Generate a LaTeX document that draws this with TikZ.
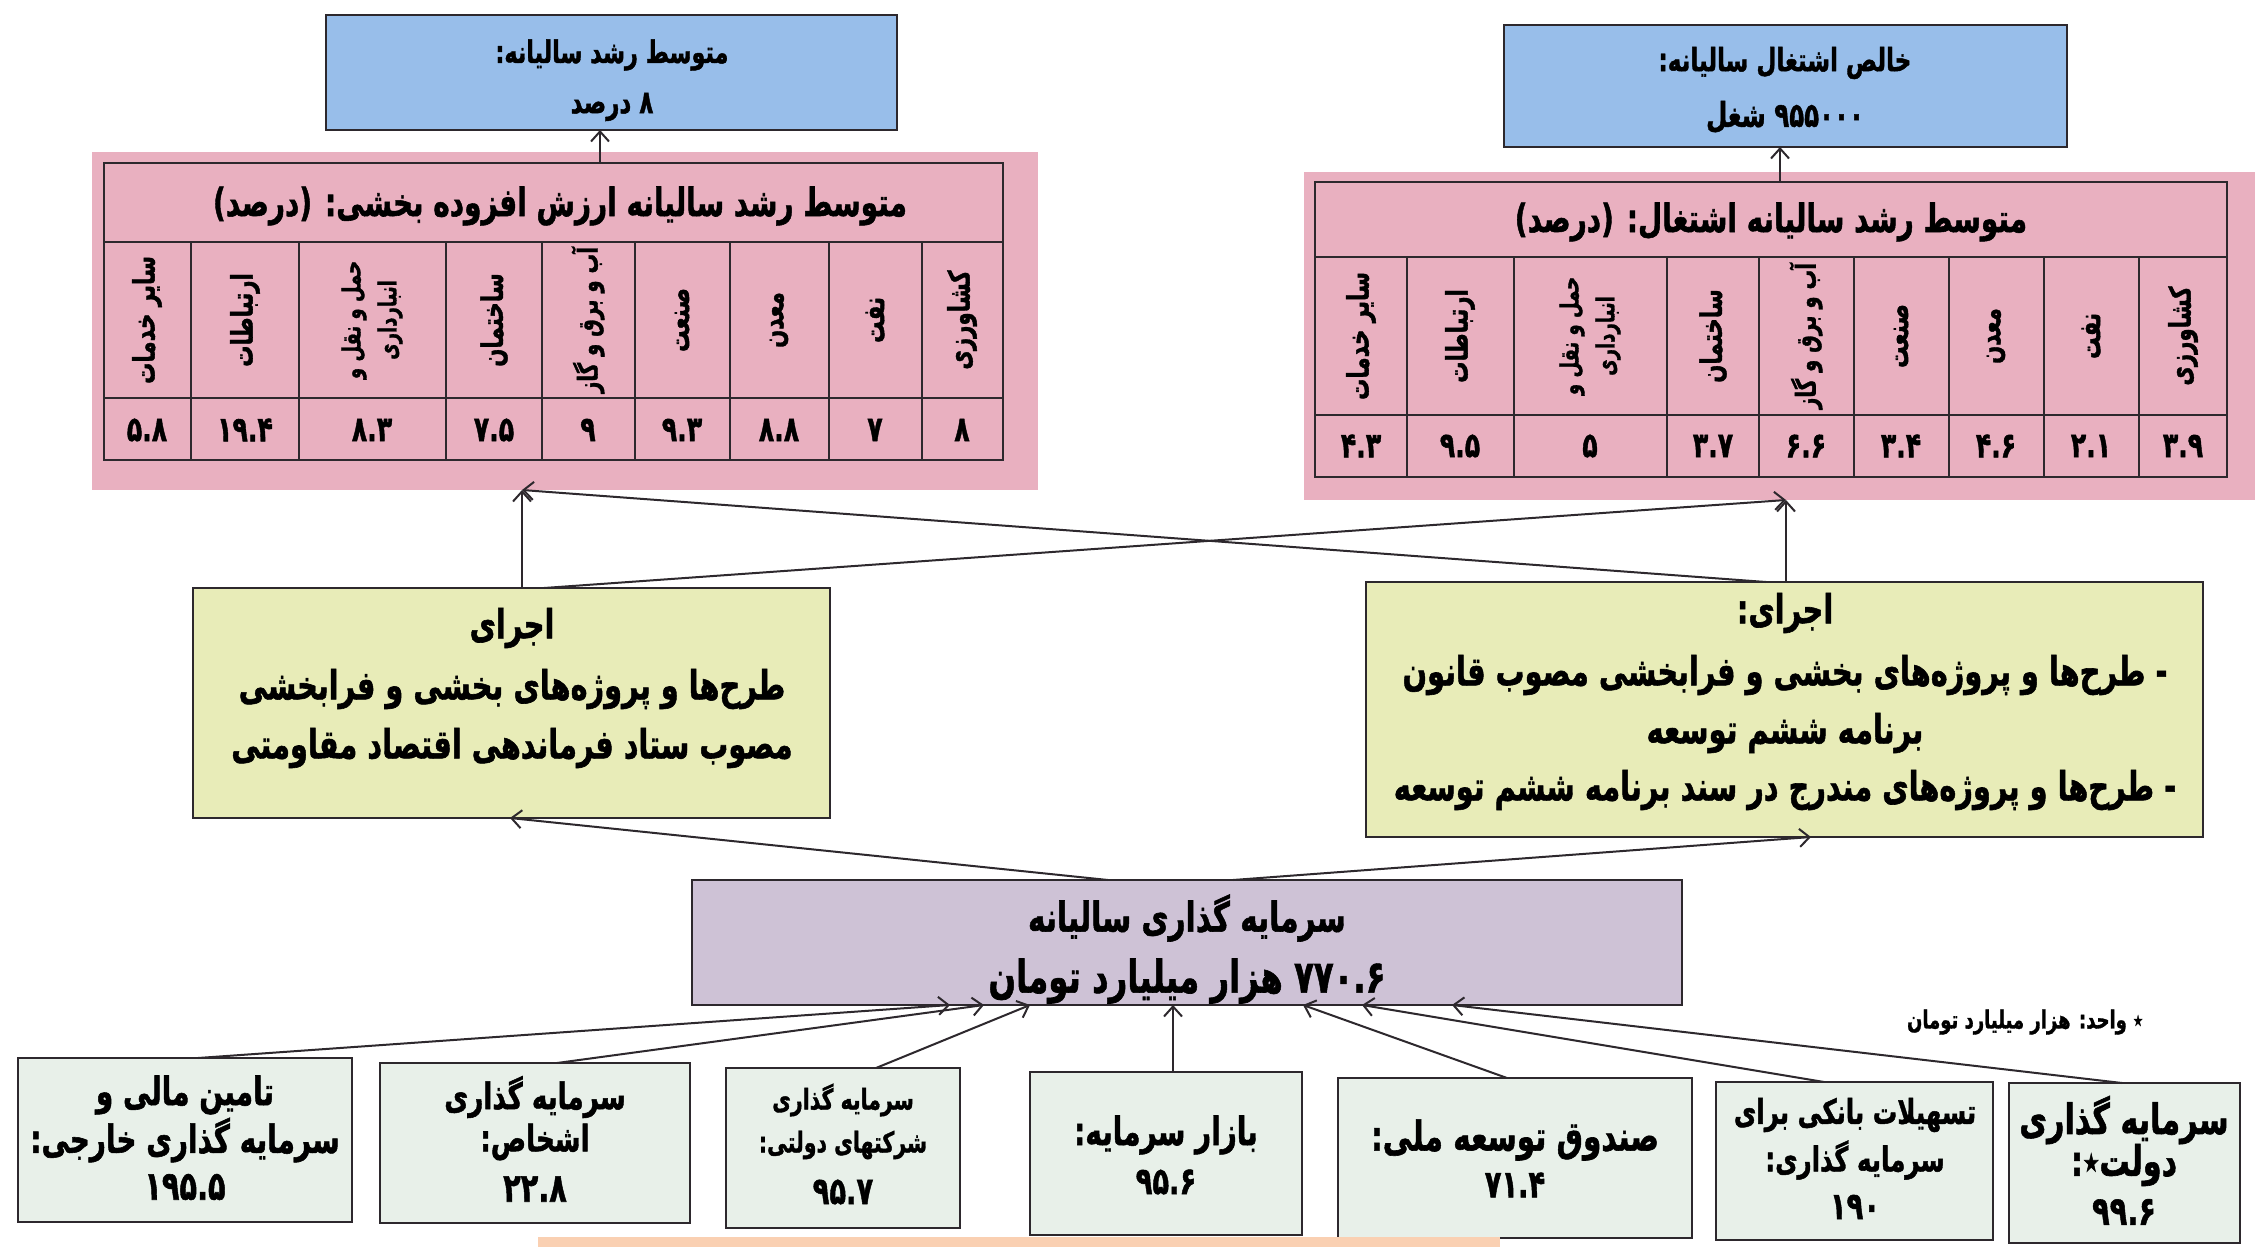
\documentclass[tikz,border=0pt]{standalone}
\usepackage{fontspec}
\usepackage{graphicx}
\usetikzlibrary{arrows.meta}
\TeXXeTstate=1
\newfontfamily\fa[Script=Arabic, BoldFeatures={FakeBold=1.5}]{DejaVu Sans}
\definecolor{blueF}{RGB}{152,190,234}
\definecolor{pinkF}{RGB}{233,176,192}
\definecolor{yelF}{RGB}{232,236,184}
\definecolor{purF}{RGB}{206,194,214}
\definecolor{grnF}{RGB}{232,240,233}
\definecolor{orgF}{RGB}{250,208,178}
\definecolor{lineC}{RGB}{45,40,45}
\newcommand\fs[1]{\fontsize{#1pt}{#1pt}\selectfont}
\newcommand\sq{0.72}
\newcommand\mkbox[6]{\node[#6, minimum width={(#4-#2)*0.5pt}, minimum height={(#5-#3)*0.5pt}] (#1) at ({(#2+#4)/2},{(#3+#5)/2}) {};}
\newcommand\tx[5]{\node[txt, font={\fa\bfseries\fs{#4}}] (#1) at (#2,#3) {\scalebox{\sq}[1]{#5}};}
\newcommand\vl[5]{\node[txt, rotate=90, font={\fa\bfseries\fs{#4}}] (#1) at (#2,#3) {\scalebox{\sq}[1]{#5}};}
\begin{document}
\begin{tikzpicture}[x=0.5pt,y=-0.5pt]
\tikzset{
 every node/.style={inner sep=0pt, outer sep=0pt},
 txt/.style={text=black},
 bx/.style={draw=lineC, line width=1.3pt},
 tl/.style={draw=lineC, line width=1pt},
 arr/.style={draw=lineC, line width=1pt, -{Straight Barb[length=5pt,width=9pt,line width=1pt]}},
}
\fill[white] (0,0) rectangle (2261,1247);
\useasboundingbox (0,0) rectangle (2261,1247);

% top boxes
\mkbox{blueL}{326}{15}{897}{130}{bx, fill=blueF}
\tx{bl1}{612}{55}{15.5}{\beginR متوسط رشد سالیانه:\endR}
\tx{bl2}{612}{107}{16}{\beginR ۸ درصد\endR}
\mkbox{blueR}{1504}{25}{2067}{147}{bx, fill=blueF}
\tx{br1}{1785}{63}{16}{\beginR خالص اشتغال سالیانه:\endR}
\tx{br2}{1785}{117}{17}{\beginR ۹۵۵۰۰۰ شغل\endR}

% left table
\mkbox{lbg}{92}{152}{1038}{490}{fill=pinkF}
\mkbox{ltab}{104}{163}{1003}{460}{bx}
\draw[tl] (104,242) -- (1003,242);
\draw[tl] (104,398) -- (1003,398);
\foreach \x in {191,299,446,542,635,730,829,922} \draw[tl] (\x,242) -- (\x,460);
\tx{lt}{560}{206}{19.4}{\beginR متوسط رشد سالیانه ارزش افزوده بخشی: (درصد)\endR}
\vl{lc1}{147}{320}{14.8}{\beginR سایر خدمات\endR}
\vl{lc2}{245}{320}{14.8}{\beginR ارتباطات\endR}
\node[txt, rotate=90, align=center, font={\fa\bfseries\fontsize{12.5pt}{18pt}\selectfont}] (lc3) at (372,320) {\scalebox{\sq}[1]{\beginR حمل و نقل و\endR}\\\scalebox{\sq}[1]{\beginR انبارداری\endR}};
\vl{lc4}{494}{320}{14.8}{\beginR ساختمان\endR}
\vl{lc5}{588}{320}{13.7}{\beginR آب و برق و گاز\endR}
\vl{lc6}{682}{320}{14.8}{\beginR صنعت\endR}
\vl{lc7}{779}{320}{14.8}{\beginR معدن\endR}
\vl{lc8}{875}{320}{14.8}{\beginR نفت\endR}
\vl{lc9}{962}{320}{14.8}{\beginR کشاورزی\endR}
\tx{ln1}{147}{430}{17.5}{۵.۸}
\tx{ln2}{245}{430}{17.5}{۱۹.۴}
\tx{ln3}{372}{430}{17.5}{۸.۳}
\tx{ln4}{494}{430}{17.5}{۷.۵}
\tx{ln5}{588}{430}{17.5}{۹}
\tx{ln6}{682}{430}{17.5}{۹.۳}
\tx{ln7}{779}{430}{17.5}{۸.۸}
\tx{ln8}{875}{430}{17.5}{۷}
\tx{ln9}{962}{430}{17.5}{۸}

% right table
\mkbox{rbg}{1304}{172}{2255}{500}{fill=pinkF}
\mkbox{rtab}{1315}{182}{2227}{477}{bx}
\draw[tl] (1315,257) -- (2227,257);
\draw[tl] (1315,415) -- (2227,415);
\foreach \x in {1407,1514,1667,1759,1854,1949,2044,2139} \draw[tl] (\x,257) -- (\x,477);
\tx{rt}{1771}{222}{19.4}{\beginR متوسط رشد سالیانه اشتغال: (درصد)\endR}
\vl{rc1}{1361}{336}{14.8}{\beginR سایر خدمات\endR}
\vl{rc2}{1460}{336}{14.8}{\beginR ارتباطات\endR}
\node[txt, rotate=90, align=center, font={\fa\bfseries\fontsize{12.5pt}{18pt}\selectfont}] (rc3) at (1590,336) {\scalebox{\sq}[1]{\beginR حمل و نقل و\endR}\\\scalebox{\sq}[1]{\beginR انبارداری\endR}};
\vl{rc4}{1713}{336}{14.8}{\beginR ساختمان\endR}
\vl{rc5}{1806}{336}{13.7}{\beginR آب و برق و گاز\endR}
\vl{rc6}{1901}{336}{14.8}{\beginR صنعت\endR}
\vl{rc7}{1996}{336}{14.8}{\beginR معدن\endR}
\vl{rc8}{2091}{336}{14.8}{\beginR نفت\endR}
\vl{rc9}{2183}{336}{14.8}{\beginR کشاورزی\endR}
\tx{rn1}{1361}{446}{17.5}{۴.۳}
\tx{rn2}{1460}{446}{17.5}{۹.۵}
\tx{rn3}{1590}{446}{17.5}{۵}
\tx{rn4}{1713}{446}{17.5}{۳.۷}
\tx{rn5}{1806}{446}{17.5}{۶.۶}
\tx{rn6}{1901}{446}{17.5}{۳.۴}
\tx{rn7}{1996}{446}{17.5}{۴.۶}
\tx{rn8}{2091}{446}{17.5}{۲.۱}
\tx{rn9}{2183}{446}{17.5}{۳.۹}

% implementation boxes
\mkbox{implL}{193}{588}{830}{818}{bx, fill=yelF}
\tx{il1}{512}{628}{20}{\beginR اجرای\endR}
\tx{il2}{512}{689}{20}{\beginR طرح‌ها و پروژه‌های بخشی و فرابخشی\endR}
\tx{il3}{512}{748}{20}{\beginR مصوب ستاد فرماندهی اقتصاد مقاومتی\endR}
\mkbox{implR}{1366}{582}{2203}{837}{bx, fill=yelF}
\tx{ir1}{1785}{613}{20}{\beginR اجرای:\endR}
\tx{ir2}{1785}{675}{20}{\beginR - طرح‌ها و پروژه‌های بخشی و فرابخشی مصوب قانون\endR}
\tx{ir3}{1785}{733}{20}{\beginR برنامه ششم توسعه\endR}
\tx{ir4}{1785}{790}{20}{\beginR - طرح‌ها و پروژه‌های مندرج در سند برنامه ششم توسعه\endR}

% investment box
\mkbox{inv}{692}{880}{1682}{1005}{bx, fill=purF}
\tx{iv1}{1187}{918}{20.5}{\beginR سرمایه گذاری سالیانه\endR}
\tx{iv2}{1187}{981}{22.5}{\beginR ۷۷۰.۶ هزار میلیارد تومان\endR}

% bottom boxes
\mkbox{b1}{18}{1058}{352}{1222}{bx, fill=grnF}
\tx{b1a}{185}{1095}{19.4}{\beginR تامین مالی و\endR}
\tx{b1b}{185}{1140}{19.4}{\beginR سرمایه گذاری خارجی:\endR}
\tx{b1c}{185}{1187}{20}{۱۹۵.۵}
\mkbox{b2}{380}{1063}{690}{1223}{bx, fill=grnF}
\tx{b2a}{535}{1097}{18.2}{\beginR سرمایه گذاری\endR}
\tx{b2b}{535}{1142}{18.2}{\beginR اشخاص:\endR}
\tx{b2c}{535}{1189}{20}{۲۲.۸}
\mkbox{b3}{726}{1068}{960}{1228}{bx, fill=grnF}
\tx{b3a}{843}{1100}{14.2}{\beginR سرمایه گذاری\endR}
\tx{b3b}{843}{1145}{14.2}{\beginR شرکتهای دولتی:\endR}
\tx{b3c}{843}{1192}{19}{۹۵.۷}
\mkbox{b4}{1030}{1072}{1302}{1235}{bx, fill=grnF}
\tx{b4a}{1166}{1135}{19.4}{\beginR بازار سرمایه:\endR}
\tx{b4b}{1166}{1182}{19}{۹۵.۶}
\mkbox{b5}{1338}{1078}{1692}{1238}{bx, fill=grnF}
\tx{b5a}{1515}{1140}{20.5}{\beginR صندوق توسعه ملی:\endR}
\tx{b5b}{1515}{1185}{19}{۷۱.۴}
\mkbox{b6}{1716}{1082}{1993}{1240}{bx, fill=grnF}
\tx{b6a}{1855}{1115}{17}{\beginR تسهیلات بانکی برای\endR}
\tx{b6b}{1855}{1160}{17}{\beginR سرمایه گذاری:\endR}
\tx{b6c}{1855}{1207}{19}{۱۹۰}
\mkbox{b7}{2009}{1083}{2240}{1243}{bx, fill=grnF}
\tx{b7a}{2124}{1120}{21}{\beginR سرمایه گذاری\endR}
\tx{b7b}{2124}{1165}{21}{\beginR دولت٭:\endR}
\tx{b7c}{2124}{1212}{20}{۹۹.۶}
\tx{note}{2025}{1022}{12.5}{\beginR ٭ واحد: هزار میلیارد تومان\endR}

% orange strip
\fill[orgF] (538,1237) rectangle (1500,1247);

% connectors
\draw[arr] (ltab.north -| 600,0) -- (blueL.south -| 600,0);
\draw[arr] (rtab.north -| 1780,0) -- (blueR.south -| 1780,0);
\draw[arr] (implL.north -| 522,0) -- (lbg.south -| 522,0);
\draw[arr] (implR.north -| 1786,0) -- (rbg.south -| 1786,0);
\draw[arr] (implL.north -| 544,0) -- (rbg.south -| 1786,0);
\draw[arr] (implR.north -| 1766,0) -- (lbg.south -| 522,0);
\draw[arr] (inv.north -| 1108,0) -- (implL.south -| 510,0);
\draw[arr] (inv.north -| 1233,0) -- (implR.south -| 1811,0);
\draw[arr] (b1.north -| 198,0) -- (inv.south -| 950,0);
\draw[arr] (b2.north -| 557,0) -- (inv.south -| 984,0);
\draw[arr] (b3.north -| 876,0) -- (inv.south -| 1030,0);
\draw[arr] (b4.north -| 1173,0) -- (inv.south -| 1173,0);
\draw[arr] (b5.north -| 1507,0) -- (inv.south -| 1303,0);
\draw[arr] (b6.north -| 1824,0) -- (inv.south -| 1362,0);
\draw[arr] (b7.north -| 2122,0) -- (inv.south -| 1452,0);
\end{tikzpicture}
\end{document}
